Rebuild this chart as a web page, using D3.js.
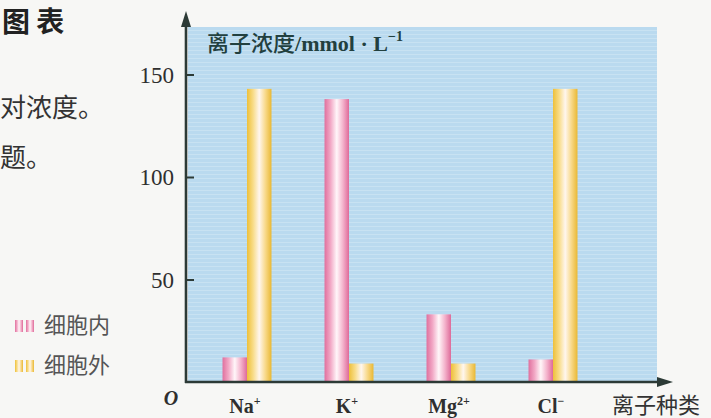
<!DOCTYPE html>
<html><head><meta charset="utf-8">
<script src="https://cdn.jsdelivr.net/npm/d3@7"></script>
<style>
html,body{margin:0;padding:0;background:#f7f7f5;}
svg{display:block;}
</style></head>
<body>
<script>
const categories = ["Na", "K", "Mg", "Cl"];
const superscripts = ["+", "+", "2+", "−"];
const insideValues = [12, 138, 33, 11];
const outsideValues = [143, 9, 9, 143];
const seriesNames = ["细胞内", "细胞外"];
const yTicks = [50, 100, 150];

const W = 711, H = 418;
const svg = d3.select("body").append("svg").attr("width", W).attr("height", H);
const defs = svg.append("defs");

function grad(id, stops) {
  const g = defs.append("linearGradient").attr("id", id).attr("x1", "0%").attr("x2", "100%").attr("y1", "0%").attr("y2", "0%");
  stops.forEach(s => g.append("stop").attr("offset", s[0]).attr("stop-color", s[1]));
}
grad("gPink", [["0%", "#e0709e"], ["25%", "#f2a9c6"], ["50%", "#fff6f9"], ["75%", "#f4b3cc"], ["100%", "#de6a99"]]);
grad("gYellow", [["0%", "#eec03a"], ["25%", "#f8dc88"], ["50%", "#fff6ee"], ["75%", "#f8d98a"], ["100%", "#e9b834"]]);

const pat = defs.append("pattern").attr("id", "tex").attr("width", 6).attr("height", 4).attr("patternUnits", "userSpaceOnUse");
pat.append("rect").attr("width", 6).attr("height", 4).attr("fill", "#badaef");
pat.append("rect").attr("y", 2).attr("width", 6).attr("height", 1).attr("fill", "#c8e2f2");

const plot = {left: 188, right: 657, top: 27, bottom: 382};
const yAxisX = 186;

const y = d3.scaleLinear().domain([0, 150]).range([plot.bottom, 74.5]);
const x0 = d3.scaleBand().domain(categories).range([196, 604]).paddingInner(0.52).paddingOuter(0.26);
const x1 = d3.scaleBand().domain(seriesNames).range([0, x0.bandwidth()]).padding(0);

svg.append("rect").attr("x", plot.left).attr("y", plot.top)
  .attr("width", plot.right - plot.left).attr("height", plot.bottom - plot.top)
  .attr("fill", "url(#tex)");

const data = categories.map((c, i) => ({c, vals: [insideValues[i], outsideValues[i]]}));
const groups = svg.append("g").selectAll("g").data(data).join("g")
  .attr("transform", d => `translate(${x0(d.c)},0)`);
groups.selectAll("rect").data(d => d.vals.map((v, j) => ({v, s: seriesNames[j], j})))
  .join("rect")
  .attr("x", d => x1(d.s))
  .attr("y", d => y(d.v))
  .attr("width", x1.bandwidth())
  .attr("height", d => y(0) - y(d.v))
  .attr("fill", d => d.j === 0 ? "url(#gPink)" : "url(#gYellow)");

const axisColor = "#2c3a36";
const yAxis = d3.axisRight(y).tickValues(yTicks).tickSize(8).tickFormat("");
const ya = svg.append("g").attr("transform", `translate(${yAxisX},0)`).call(yAxis);
ya.select(".domain").remove();
ya.selectAll("line").attr("stroke", axisColor).attr("stroke-width", 2);
svg.append("g").selectAll("text").data(yTicks).join("text")
  .attr("x", 174).attr("y", d => y(d)).attr("dy", "0.35em")
  .attr("text-anchor", "end")
  .attr("font-family", "Liberation Serif, serif").attr("font-size", 23)
  .attr("fill", "#2f2f2f").text(d => d);

svg.append("line").attr("x1", yAxisX).attr("x2", yAxisX).attr("y1", plot.bottom + 1).attr("y2", 22)
  .attr("stroke", axisColor).attr("stroke-width", 2.6);
svg.append("path").attr("d", `M${yAxisX},11 L${yAxisX - 5},27 L${yAxisX + 5},27 Z`).attr("fill", axisColor);
svg.append("line").attr("x1", yAxisX - 1).attr("x2", 662).attr("y1", plot.bottom).attr("y2", plot.bottom)
  .attr("stroke", axisColor).attr("stroke-width", 2.6);
svg.append("path").attr("d", `M673,${plot.bottom} L657,${plot.bottom - 5} L657,${plot.bottom + 5} Z`).attr("fill", axisColor);

const xl = svg.append("g").selectAll("text").data(categories).join("text")
  .attr("x", (d) => x0(d) + x0.bandwidth() / 2 - 2)
  .attr("y", 413)
  .attr("text-anchor", "middle")
  .attr("font-family", "Liberation Serif, serif").attr("font-size", 20).attr("font-weight", "bold")
  .attr("fill", "#2f2f2f");
xl.append("tspan").text(d => d);
xl.append("tspan").attr("dy", -8).attr("font-size", 12).text((d, i) => superscripts[i]);

svg.append("text").attr("x", 171).attr("y", 405).attr("text-anchor", "middle")
  .attr("font-family", "Liberation Serif, serif").attr("font-style", "italic").attr("font-weight", "bold")
  .attr("font-size", 20).attr("fill", "#2f2f2f").text("O");

svg.append("text").attr("x", 700).attr("y", 413).attr("text-anchor", "end")
  .attr("font-family", "Noto Sans CJK SC").attr("font-size", 22).attr("fill", "#333")
  .text("离子种类");

const yt = svg.append("text").attr("x", 207).attr("y", 51)
  .attr("font-size", 22).attr("fill", "#22403f");
yt.append("tspan").attr("font-family", "Noto Sans CJK SC").attr("font-weight", 500).text("离子浓度");
yt.append("tspan").attr("font-family", "Liberation Serif, serif").attr("font-weight", "bold").text("/mmol · L");
yt.append("tspan").attr("font-family", "Liberation Serif, serif").attr("font-weight", "bold").attr("font-size", 14).attr("dy", -10).text("−1");

const legend = svg.append("g");
seriesNames.forEach((n, i) => {
  const ly = 320 + i * 40;
  legend.append("rect").attr("x", 15).attr("y", ly).attr("width", 8).attr("height", 12).attr("fill", i === 0 ? "url(#gPink)" : "url(#gYellow)");
  legend.append("rect").attr("x", 26).attr("y", ly).attr("width", 8).attr("height", 12).attr("fill", i === 0 ? "url(#gPink)" : "url(#gYellow)");
  legend.append("text").attr("x", 44).attr("y", ly + 13).attr("font-family", "Noto Sans CJK SC")
    .attr("font-size", 22).attr("fill", "#555").text(n);
});

svg.append("text").attr("x", 2).attr("y", 32).attr("font-family", "Noto Sans CJK SC").attr("font-weight", "bold")
  .attr("font-size", 28).attr("fill", "#222").text("图 表");
svg.append("text").attr("x", 0).attr("y", 117).attr("font-family", "Noto Sans CJK SC")
  .attr("font-size", 26).attr("fill", "#333").text("对浓度。");
svg.append("text").attr("x", 0).attr("y", 167).attr("font-family", "Noto Sans CJK SC")
  .attr("font-size", 26).attr("fill", "#333").text("题。");
</script>
</body></html>
